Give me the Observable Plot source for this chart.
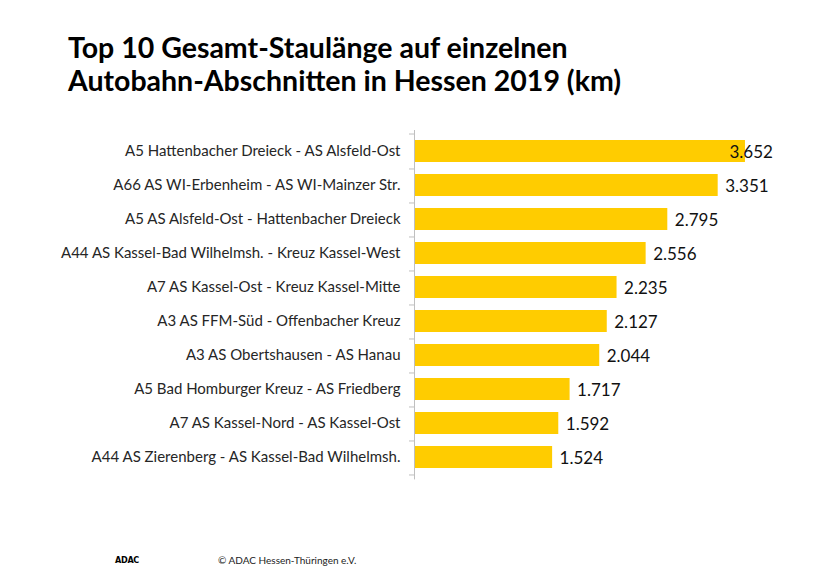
<!DOCTYPE html>
<html>
<head>
<meta charset="utf-8">
<script src="https://cdn.jsdelivr.net/npm/d3@7"></script>
<script src="https://cdn.jsdelivr.net/npm/@observablehq/plot@0.6"></script>
<style>
  html, body { margin: 0; padding: 0; background: #fff; width: 840px; height: 567px; overflow: hidden; position: relative; }
  #title { position: absolute; left: 68px; top: 31px; font-family: Lato, sans-serif; font-weight: bold; font-size: 28.5px; line-height: 33px; color: #000; white-space: nowrap; }
  #chart { position: absolute; left: 0; top: 115px; }
  #logo { position: absolute; left: 115px; top: 555px; font-family: "Liberation Sans Narrow", "DejaVu Sans Condensed", sans-serif; font-weight: bold; font-size: 9px; letter-spacing: -0.3px; color: #000; }
  #copy { position: absolute; left: 218px; top: 554px; font-family: Lato, sans-serif; font-size: 10px; color: #222; }
</style>
</head>
<body>
<div id="title">Top 10 Gesamt-Staulänge auf einzelnen<br>Autobahn-Abschnitten in Hessen 2019 (km)</div>
<div id="chart"></div>
<div id="logo">ADAC</div>
<div id="copy">© ADAC Hessen-Thüringen e.V.</div>
<script>
const categories = [
  "A5 Hattenbacher Dreieck - AS Alsfeld-Ost",
  "A66 AS WI-Erbenheim - AS WI-Mainzer Str.",
  "A5 AS Alsfeld-Ost - Hattenbacher Dreieck",
  "A44 AS Kassel-Bad Wilhelmsh. - Kreuz Kassel-West",
  "A7 AS Kassel-Ost - Kreuz Kassel-Mitte",
  "A3 AS FFM-Süd - Offenbacher Kreuz",
  "A3 AS Obertshausen - AS Hanau",
  "A5 Bad Homburger Kreuz - AS Friedberg",
  "A7 AS Kassel-Nord - AS Kassel-Ost",
  "A44 AS Zierenberg - AS Kassel-Bad Wilhelmsh."
];
const values = [3652, 3351, 2795, 2556, 2235, 2127, 2044, 1717, 1592, 1524];

const data = categories.map((name, i) => ({name, value: values[i]}));
const de = d3.formatLocale({decimal: ",", thousands: ".", grouping: [3], currency: ["", " €"]});
const fmt = de.format(",");

const H = 380, mt = 15, mb = 15.6;
const step = (H - mt - mb) / categories.length;

const chart = Plot.plot({
  width: 840,
  height: H,
  marginTop: mt,
  marginBottom: mb,
  marginLeft: 414,
  marginRight: 63.5,
  style: {fontFamily: "Lato, sans-serif", background: "transparent"},
  x: {domain: [0, 4000], axis: null},
  y: {domain: categories, paddingInner: 0.34, paddingOuter: 0.17},
  marks: [
    Plot.barX(data, {y: "name", x: "value", fill: "#ffcc00"}),
    Plot.ruleX([0], {stroke: "#bfbfbf", strokeWidth: 1}),
    Plot.axisY({tickSize: 5, tickFormat: () => "", dy: step / 2, stroke: "#bfbfbf", label: null}),
    Plot.axisY({ticks: [categories[0]], tickSize: 5, tickFormat: () => "", dy: -step / 2, stroke: "#bfbfbf", label: null}),
    Plot.axisY({tickSize: 0, tickPadding: 14, fontSize: 15, fill: "#262626", label: null}),
    Plot.text(data.slice(1), {y: "name", x: "value", text: d => fmt(d.value), textAnchor: "start", dx: 7, dy: 1.5, fontSize: 17, fill: "#111"}),
    Plot.text(data.slice(0, 1), {y: "name", x: "value", text: d => fmt(d.value), textAnchor: "start", dx: -16, dy: 1.5, fontSize: 17, fill: "#111"})
  ]
});
document.getElementById("chart").appendChild(chart);
</script>
</body>
</html>
